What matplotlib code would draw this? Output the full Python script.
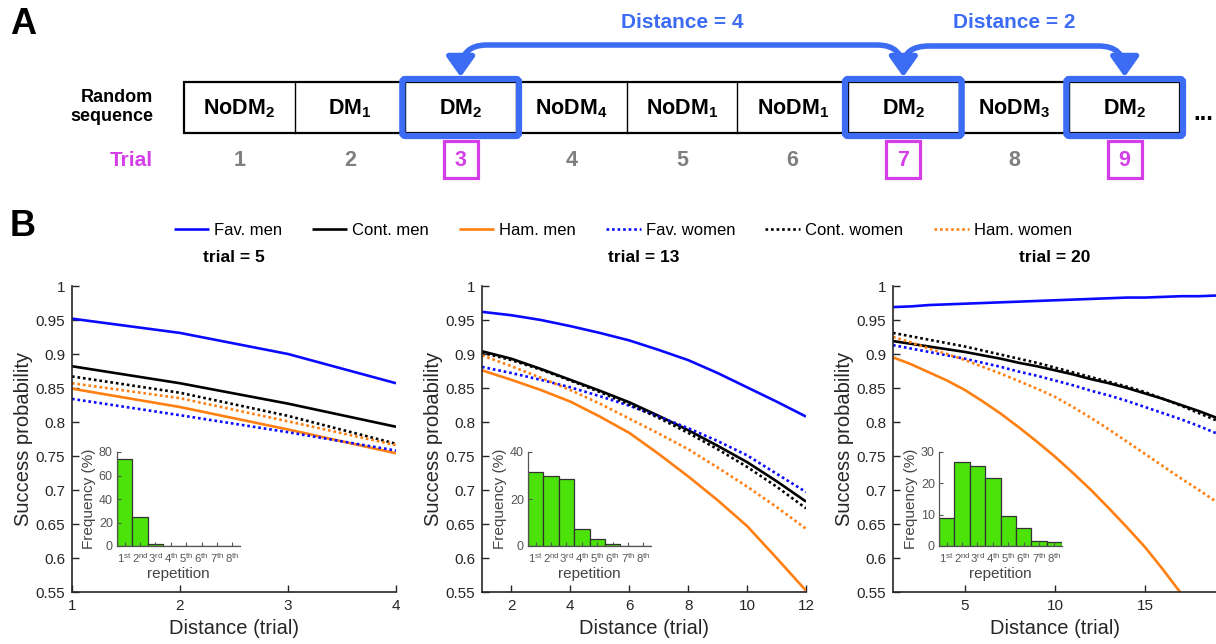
import matplotlib
matplotlib.use('Agg')
import matplotlib.pyplot as plt
from matplotlib.path import Path
from matplotlib.patches import FancyArrowPatch, Rectangle, FancyBboxPatch, ArrowStyle
from matplotlib.ticker import FormatStrFormatter

plt.rcParams['font.family'] = ['Liberation Sans', 'DejaVu Sans']
plt.rcParams['mathtext.fontset'] = 'custom'
plt.rcParams['mathtext.rm'] = 'Liberation Sans'
plt.rcParams['mathtext.bf'] = 'Liberation Sans:bold'

# ---------------- Panel A data ----------------
seq_labels = ['NoDM', 'DM', 'DM', 'NoDM', 'NoDM', 'NoDM', 'DM', 'NoDM', 'DM']
seq_subs = ['2', '1', '2', '4', '1', '1', '2', '3', '2']
trial_numbers = [1, 2, 3, 4, 5, 6, 7, 8, 9]
highlight_trials = [3, 7, 9]
distance_labels = ['Distance = 4', 'Distance = 2']

# ---------------- Panel B data ----------------
series_names = ['Fav. men', 'Cont. men', 'Ham. men', 'Fav. women', 'Cont. women', 'Ham. women']
panel_trials = [5, 13, 20]

dist_t5 = [1, 2, 3, 4]
fav_men_t5 = [0.952, 0.931, 0.900, 0.857]
cont_men_t5 = [0.882, 0.857, 0.827, 0.793]
ham_men_t5 = [0.849, 0.822, 0.789, 0.754]
fav_women_t5 = [0.834, 0.810, 0.785, 0.758]
cont_women_t5 = [0.867, 0.843, 0.809, 0.768]
ham_women_t5 = [0.857, 0.835, 0.801, 0.766]

dist_t13 = [1, 2, 3, 4, 5, 6, 7, 8, 9, 10, 11, 12]
fav_men_t13 = [0.962, 0.957, 0.950, 0.941, 0.931, 0.920, 0.906, 0.891, 0.872, 0.851, 0.830, 0.808]
cont_men_t13 = [0.904, 0.893, 0.878, 0.862, 0.846, 0.829, 0.809, 0.788, 0.765, 0.741, 0.713, 0.683]
ham_men_t13 = [0.876, 0.862, 0.847, 0.830, 0.808, 0.784, 0.753, 0.720, 0.685, 0.647, 0.600, 0.552]
fav_women_t13 = [0.881, 0.872, 0.862, 0.851, 0.838, 0.824, 0.808, 0.791, 0.772, 0.751, 0.724, 0.697]
cont_women_t13 = [0.902, 0.891, 0.877, 0.861, 0.844, 0.826, 0.806, 0.784, 0.760, 0.734, 0.705, 0.673]
ham_women_t13 = [0.898, 0.882, 0.865, 0.847, 0.827, 0.805, 0.783, 0.760, 0.733, 0.705, 0.675, 0.643]

dist_t20 = [1, 2, 3, 4, 5, 6, 7, 8, 9, 10, 11, 12, 13, 14, 15, 16, 17, 18, 19]
fav_men_t20 = [0.969, 0.970, 0.972, 0.973, 0.974, 0.975, 0.976, 0.977, 0.978, 0.979,
               0.980, 0.981, 0.982, 0.983, 0.983, 0.984, 0.985, 0.985, 0.986]
cont_men_t20 = [0.919, 0.915, 0.911, 0.907, 0.903, 0.898, 0.893, 0.887, 0.882, 0.876,
                0.870, 0.863, 0.857, 0.850, 0.842, 0.834, 0.825, 0.816, 0.806]
ham_men_t20 = [0.895, 0.885, 0.873, 0.861, 0.847, 0.830, 0.812, 0.792, 0.771, 0.749,
               0.725, 0.700, 0.673, 0.645, 0.616, 0.583, 0.548]
fav_women_t20 = [0.913, 0.908, 0.903, 0.898, 0.893, 0.887, 0.881, 0.874, 0.868, 0.861,
                 0.854, 0.846, 0.839, 0.831, 0.822, 0.813, 0.804, 0.794, 0.783]
cont_women_t20 = [0.931, 0.926, 0.921, 0.916, 0.911, 0.905, 0.899, 0.893, 0.887, 0.880,
                  0.873, 0.866, 0.859, 0.852, 0.844, 0.834, 0.824, 0.813, 0.802]
ham_women_t20 = [0.925, 0.917, 0.908, 0.900, 0.891, 0.881, 0.871, 0.860, 0.849, 0.837,
                 0.822, 0.806, 0.789, 0.771, 0.753, 0.735, 0.717, 0.700, 0.682]

rep_numbers = ['1', '2', '3', '4', '5', '6', '7', '8']
rep_suffixes = ['st', 'nd', 'rd', 'th', 'th', 'th', 'th', 'th']
freq_t5 = [74.3, 24.9, 1.7, 0, 0, 0, 0, 0]
freq_t13 = [31.5, 29.7, 28.7, 7.1, 3.1, 0.9, 0, 0]
freq_t20 = [8.8, 26.7, 25.5, 21.7, 9.6, 5.6, 1.6, 1.2]

y_ticks = [0.55, 0.6, 0.65, 0.7, 0.75, 0.8, 0.85, 0.9, 0.95, 1.0]

# ---------------- styles ----------------
BLUE = '#0a0aff'
ORANGE = '#ff7f10'
BLACK = '#000000'
ARROW_BLUE = '#3d6cf4'
MAGENTA = '#d43ee8'
GREEN = '#4be30a'
AXC = '#262626'
series_colors = [BLUE, BLACK, ORANGE, BLUE, BLACK, ORANGE]
series_dotted = [False, False, False, True, True, True]

W, H = 1216, 644
fig = plt.figure(figsize=(W / 100, H / 100), dpi=100)


def fbox(l, t, r, b):
    return [l / W, 1 - b / H, (r - l) / W, (b - t) / H]


# ---------------- Panel A ----------------
axA = fig.add_axes([0, 0, 1, 1])
axA.set_xlim(0, W)
axA.set_ylim(H, 0)
axA.axis('off')

seq_l, seq_r, seq_t, seq_b = 184, 1180, 82, 133
n = len(seq_labels)
cw = (seq_r - seq_l) / n
axA.add_patch(Rectangle((seq_l, seq_t), seq_r - seq_l, seq_b - seq_t,
                        fill=False, ec='black', lw=1.6))
for i in range(1, n):
    axA.plot([seq_l + i * cw] * 2, [seq_t, seq_b], color='black', lw=1.0)
centers = [seq_l + (i + 0.5) * cw for i in range(n)]
for cx, lab, sub in zip(centers, seq_labels, seq_subs):
    axA.text(cx, 109, r'$\mathbf{%s}_\mathbf{%s}$' % (lab, sub), ha='center', va='center',
             fontsize=15.5)
for cx, tn in zip(centers, trial_numbers):
    hl = tn in highlight_trials
    axA.text(cx, 160, str(tn), ha='center', va='center', fontsize=15.5, fontweight='bold',
             color=MAGENTA if hl else '#7f7f7f')
    if hl:
        axA.add_patch(Rectangle((cx - 17, 141), 34, 37, fill=False, ec=MAGENTA, lw=2.3))
        axA.add_patch(FancyBboxPatch((cx - cw / 2 - 3, seq_t - 3), cw + 6, seq_b - seq_t + 6,
                                     boxstyle='round,pad=0,rounding_size=3',
                                     fill=False, ec=ARROW_BLUE, lw=4.5, zorder=5))
axA.text(153, 107, 'Random\nsequence', ha='right', va='center', fontsize=13,
         fontweight='bold', linespacing=1.15)
axA.text(153, 160, 'Trial', ha='right', va='center', fontsize=15, fontweight='bold',
         color=MAGENTA)
axA.text(1203, 113, '...', ha='center', va='center', fontsize=17, fontweight='bold')

x3, x7, x9 = centers[2], centers[6], centers[8]
yh, ytip, r = 45, 77, 26
path1 = Path([(x3, ytip), (x3, yh + r), (x3, yh), (x3 + r, yh), (x7 - r, yh),
              (x7, yh), (x7, yh + r), (x7, ytip)],
             [Path.MOVETO, Path.LINETO, Path.CURVE3, Path.CURVE3, Path.LINETO,
              Path.CURVE3, Path.CURVE3, Path.LINETO])
axA.add_patch(FancyArrowPatch(path=path1,
                              arrowstyle=ArrowStyle('<|-|>', head_length=12, head_width=8.5),
                              color=ARROW_BLUE, lw=4, mutation_scale=1,
                              shrinkA=0, shrinkB=0))
path2 = Path([(x7, 66), (x7, yh + 1), (x7 + r, yh + 1), (x9 - r, yh + 1),
              (x9, yh + 1), (x9, yh + r), (x9, ytip)],
             [Path.MOVETO, Path.CURVE3, Path.CURVE3, Path.LINETO,
              Path.CURVE3, Path.CURVE3, Path.LINETO])
axA.add_patch(FancyArrowPatch(path=path2,
                              arrowstyle=ArrowStyle('-|>', head_length=12, head_width=8.5),
                              color=ARROW_BLUE, lw=4, mutation_scale=1,
                              shrinkA=0, shrinkB=0))
axA.text((x3 + x7) / 2, 22, distance_labels[0], ha='center', va='center', fontsize=15,
         fontweight='bold', color=ARROW_BLUE)
axA.text((x7 + x9) / 2, 22, distance_labels[1], ha='center', va='center', fontsize=15,
         fontweight='bold', color=ARROW_BLUE)

axA.text(10, 24, 'A', ha='left', va='center', fontsize=26, fontweight='bold')
axA.text(10, 226, 'B', ha='left', va='center', fontsize=26, fontweight='bold')

# ---------------- Panel B ----------------
panel_dists = [dist_t5, dist_t13, dist_t20]
panel_series = [
    [fav_men_t5, cont_men_t5, ham_men_t5, fav_women_t5, cont_women_t5, ham_women_t5],
    [fav_men_t13, cont_men_t13, ham_men_t13, fav_women_t13, cont_women_t13, ham_women_t13],
    [fav_men_t20, cont_men_t20, ham_men_t20, fav_women_t20, cont_women_t20, ham_women_t20],
]
panel_freqs = [freq_t5, freq_t13, freq_t20]
panel_xlims = [(1, 4), (1, 12), (1, 19)]
panel_xticks = [[1, 2, 3, 4], [2, 4, 6, 8, 10, 12], [5, 10, 15]]
panel_fylim = [80, 40, 30]
panel_fyticks = [[0, 20, 40, 60, 80], [0, 20, 40], [0, 10, 20, 30]]
panel_lefts = [72, 482, 893]
inset_lefts = [117, 528, 939]
pw = 324

handles = []
for k in range(3):
    ax = fig.add_axes(fbox(panel_lefts[k], 286, panel_lefts[k] + pw, 592))
    xs = panel_dists[k]
    for j, ys in enumerate(panel_series[k]):
        kw = dict(color=series_colors[j], lw=1.9, solid_capstyle='butt')
        if series_dotted[j]:
            kw.update(linestyle=(0, (1, 1.1)), dash_capstyle='butt')
        ln, = ax.plot(xs[:len(ys)], ys, label=series_names[j], **kw)
        if k == 0:
            handles.append(ln)
    ax.set_xlim(*panel_xlims[k])
    ax.set_ylim(0.55, 1.0)
    ax.set_xticks(panel_xticks[k])
    ax.set_yticks(y_ticks)
    ax.yaxis.set_major_formatter(FormatStrFormatter('%g'))
    for s in ['top', 'right']:
        ax.spines[s].set_visible(False)
    for s in ['left', 'bottom']:
        ax.spines[s].set_color(AXC)
        ax.spines[s].set_linewidth(1.2)
    ax.tick_params(direction='in', length=5, width=1.0, colors=AXC, labelsize=11, pad=5)
    ax.set_ylabel('Success probability', fontsize=14.5, color=AXC)
    ax.yaxis.set_label_coords(-39 / pw, 0.5)
    ax.set_xlabel('Distance (trial)', fontsize=14.5, color=AXC, labelpad=4)
    ax.set_title('trial = %d' % panel_trials[k], fontsize=12.5, fontweight='bold', pad=17)

    # inset histogram (transparent background: curves show through)
    ai = fig.add_axes(fbox(inset_lefts[k], 452, inset_lefts[k] + 123, 546))
    ai.patch.set_alpha(0)
    reps = list(range(1, len(panel_freqs[k]) + 1))
    ai.bar(reps, panel_freqs[k], width=1.0, color=GREEN, edgecolor='#333333', linewidth=0.9)
    ai.set_xlim(0.5, 8.5)
    ai.set_ylim(0, panel_fylim[k])
    ai.set_yticks(panel_fyticks[k])
    ai.set_xticks(reps)
    ai.set_xticklabels([r'%s$^{\mathrm{%s}}$' % (a, b) for a, b in zip(rep_numbers, rep_suffixes)])
    for s in ['top', 'right']:
        ai.spines[s].set_visible(False)
    for s in ['left', 'bottom']:
        ai.spines[s].set_color('#555555')
        ai.spines[s].set_linewidth(0.9)
    ai.tick_params(direction='in', length=3, width=0.8, colors='#555555', labelsize=9, pad=3)
    ai.tick_params(axis='x', labelsize=8.2, pad=4)
    ai.set_ylabel('Frequency (%)', fontsize=11, color='#444444', labelpad=2)
    ai.set_xlabel('repetition', fontsize=11, color='#444444', labelpad=1)

fig.legend(handles=handles, labels=series_names, loc='center', ncol=6,
           bbox_to_anchor=(623 / W, 1 - 230 / H), frameon=False, fontsize=12,
           handlelength=2.1, handletextpad=0.3, columnspacing=1.8)

fig.savefig('out.png', dpi=100)
